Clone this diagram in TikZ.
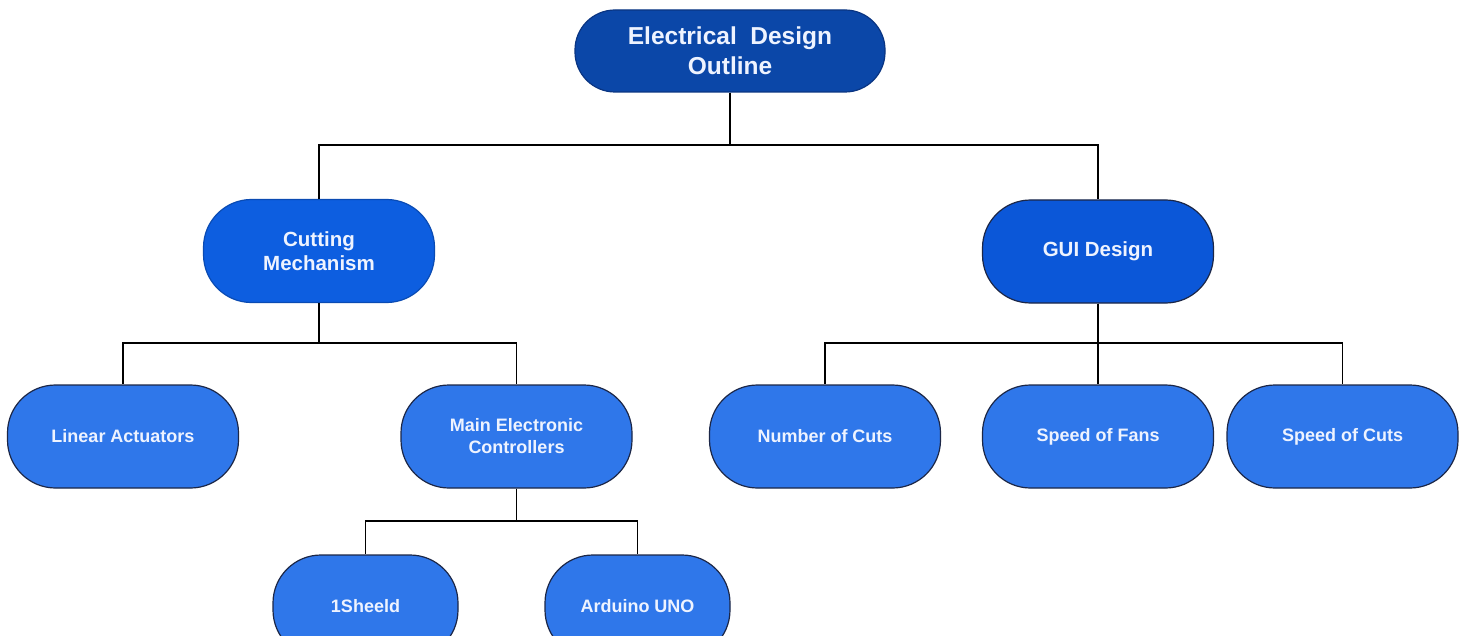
\documentclass[tikz,border=0pt]{standalone}
\usepackage{fontspec}
\setmainfont{Liberation Sans}
\definecolor{topfill}{HTML}{0B47A8}
\definecolor{topdraw}{HTML}{0A3582}
\definecolor{midfill}{HTML}{0D5EE0}
\definecolor{guifill}{HTML}{0B57D8}
\definecolor{leaffill}{HTML}{2F77EA}
\definecolor{navy}{HTML}{1C2747}
\definecolor{txt}{HTML}{EEF3FF}
\tikzset{
  pill/.style={rectangle, rounded corners=48pt, minimum width=231pt, minimum height=103pt,
    inner sep=0pt, align=center, text=txt, font=\bfseries\fontsize{18}{22}\selectfont,
    fill=leaffill, draw=navy, line width=1.2pt},
  toppill/.style={pill, minimum width=310pt, minimum height=82pt, rounded corners=40pt,
    fill=topfill, draw=topdraw, font=\bfseries\fontsize{24.5}{30}\selectfont},
  midpill/.style={pill, fill=midfill, draw=midfill!80!black, font=\bfseries\fontsize{20.5}{24}\selectfont},
  guipill/.style={midpill, fill=guifill, draw=navy},
  smallpill/.style={pill, minimum width=185pt},
  link/.style={draw=black, line width=1.4pt}
}
\begin{document}
\begin{tikzpicture}[x=1pt,y=-1pt]
\fill[white] (0,0) rectangle (1463,636);
\useasboundingbox (0,0) rectangle (1463,636);
\clip (0,0) rectangle (1463,636);

\node[toppill] (top) at (730,51) {Electrical\ \ Design\\Outline};
\node[midpill] (cut) at (319,251) {Cutting\\Mechanism};
\node[guipill] (gui) at (1098,251.5) {GUI Design};
\node[pill] (lin) at (123,436.5) {Linear Actuators};
\node[pill] (mec) at (516.5,436.5) {Main Electronic\\Controllers};
\node[pill] (num) at (825,436.5) {Number of Cuts};
\node[pill] (fan) at (1098,436.5) {Speed of Fans};
\node[pill] (spc) at (1342.5,436.5) {Speed of Cuts};
\node[smallpill] (she) at (365.5,606.5) {1Sheeld};
\node[smallpill] (ard) at (637.5,606.5) {Arduino UNO};

\draw[link] (top.south) |- (319,145) -- (cut.north);
\draw[link] (top.south) |- (1098,145) -- (gui.north);
\draw[link] (cut.south) |- (123,343) -- (lin.north);
\draw[link] (cut.south) |- (516.5,343) -- (mec.north);
\draw[link] (gui.south) -- (fan.north);
\draw[link] (gui.south) |- (825,343) -- (num.north);
\draw[link] (gui.south) |- (1342.5,343) -- (spc.north);
\draw[link] (mec.south) |- (365.5,521) -- (she.north);
\draw[link] (mec.south) |- (637.5,521) -- (ard.north);
\end{tikzpicture}
\end{document}
